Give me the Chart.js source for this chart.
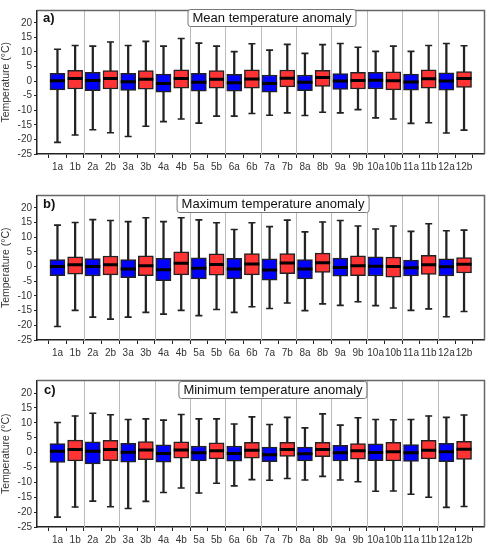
<!DOCTYPE html>
<html>
<head>
<meta charset="utf-8">
<script src="https://cdn.jsdelivr.net/npm/chart.js@4.4.0/dist/chart.umd.min.js"></script>
<style>
    body { margin: 0; background: #fff; font-family: "Liberation Sans", Arial, sans-serif; }
    #wrap { position: relative; width: 495px; height: 550px; }
    canvas { position: absolute; left: 0; }
    .tag { position: absolute; font-weight: bold; font-size: 13px; color: #111; }
    .ttl {
        position: absolute; transform: translateX(-50%); white-space: nowrap;
        font-size: 13px; color: #111; background: #fff;
        border: 1px solid #777; border-radius: 3px; padding: 0 4px; line-height: 16px;
    }
</style>
</head>
<body>
<div id="wrap">
    <canvas id="chartA" width="495" height="180" style="top:0px"></canvas>
    <canvas id="chartB" width="495" height="180" style="top:185px"></canvas>
    <canvas id="chartC" width="495" height="180" style="top:370px"></canvas>
    <div class="tag" style="left:43px; top:10px">a)</div>
    <div class="tag" style="left:43px; top:196px">b)</div>
    <div class="tag" style="left:44px; top:382px">c)</div>
    <div class="ttl" style="left:272px; top:9px">Mean temperature anomaly</div>
    <div class="ttl" style="left:273px; top:195px">Maximum temperature anomaly</div>
    <div class="ttl" style="left:273px; top:381px">Minimum temperature anomaly</div>
</div>
<script>
const categories = ['1a','1b','2a','2b','3a','3b','4a','4b','5a','5b','6a','6b',
                    '7a','7b','8a','8b','9a','9b','10a','10b','11a','11b','12a','12b'];
const yTicks = [-25, -20, -15, -10, -5, 0, 5, 10, 15, 20];

// a) mean temperature anomaly
const meanMax = [10.9, 12.2, 12.0, 13.4, 12.2, 13.6, 12.0, 14.6, 13.0, 12.0, 10.1, 12.8,
                 10.6, 12.6, 9.5, 12.5, 12.9, 11.6, 10.2, 12.0, 10.2, 12.2, 12.9, 12.1];
const meanQ3  = [2.7, 3.7, 3.0, 3.6, 2.7, 3.6, 2.4, 3.9, 2.7, 3.6, 2.3, 3.9,
                 2.1, 3.8, 2.1, 3.7, 2.6, 3.0, 3.0, 3.2, 2.4, 3.9, 2.8, 3.3];
const meanMed = [0.1, 0.9, 0.2, 0.9, -0.2, 0.6, -0.8, 0.9, -0.4, 0.6, -0.6, 0.7,
                 -0.8, 1.0, -0.4, 1.2, 0.0, 0.2, 0.3, 0.1, -0.3, 0.8, 0.0, 0.9];
const meanQ1  = [-3.0, -2.7, -3.3, -2.7, -3.2, -2.8, -3.8, -2.4, -3.5, -2.4, -3.5, -2.4,
                 -3.8, -2.0, -3.3, -1.8, -2.9, -2.7, -2.7, -3.0, -3.1, -2.4, -3.1, -2.2];
const meanMin = [-21.0, -18.5, -16.7, -17.7, -19.0, -15.5, -13.9, -13.0, -14.4, -12.0, -12.0, -11.1,
                 -11.7, -10.9, -11.8, -10.7, -10.9, -9.8, -12.6, -13.0, -14.5, -14.3, -17.8, -16.8];

// b) maximum temperature anomaly
const maxMax = [14.1, 15.0, 16.0, 15.7, 15.3, 16.6, 15.3, 16.6, 15.9, 14.9, 12.6, 14.9,
                13.6, 15.8, 11.8, 15.2, 15.7, 13.8, 12.8, 13.8, 12.0, 14.6, 12.2, 12.4];
const maxQ3  = [2.4, 3.3, 2.7, 3.6, 2.4, 3.7, 2.8, 5.0, 3.0, 4.3, 2.8, 4.4,
                2.6, 4.4, 2.4, 4.6, 2.9, 3.7, 3.3, 3.2, 2.2, 3.8, 2.6, 3.1];
const maxMed = [0.0, 0.6, 0.0, 0.6, -0.8, 0.3, -1.1, 1.1, -0.6, 0.7, -0.8, 0.9,
                -1.2, 1.2, -0.8, 1.3, -0.3, 0.3, 0.1, 0.0, -0.4, 0.6, -0.1, 0.8];
const maxQ1  = [-3.1, -2.6, -3.2, -2.8, -3.8, -3.1, -4.8, -2.8, -4.2, -2.9, -4.2, -2.8,
                -4.6, -2.4, -4.2, -2.0, -3.3, -3.1, -3.2, -3.6, -3.2, -2.7, -3.2, -2.2];
const maxMin = [-20.4, -14.9, -17.2, -17.9, -17.2, -15.6, -16.2, -14.9, -16.7, -14.6, -15.6, -13.7,
                -14.3, -12.4, -15.0, -12.7, -13.2, -12.0, -13.3, -14.1, -14.9, -14.4, -17.1, -15.3];

// c) minimum temperature anomaly
const minMax = [10.1, 12.3, 13.2, 12.7, 11.1, 11.3, 10.9, 12.8, 11.3, 11.3, 9.6, 12.0,
                9.4, 11.8, 8.3, 13.0, 9.2, 11.7, 11.1, 11.0, 11.1, 12.3, 11.8, 12.6];
const minQ3  = [3.0, 4.2, 3.6, 4.1, 3.1, 3.7, 2.6, 3.6, 2.2, 3.3, 2.2, 3.4,
                1.8, 3.4, 1.8, 3.4, 2.4, 3.0, 2.9, 3.4, 2.7, 4.1, 3.1, 3.8];
const minMed = [0.4, 1.0, 0.4, 1.0, 0.1, 0.9, -0.3, 0.9, -0.1, 0.6, -0.3, 0.8,
                -0.7, 1.0, -0.4, 1.0, -0.1, 0.6, 0.0, 0.3, -0.1, 0.8, 0.3, 1.1];
const minQ1  = [-3.3, -2.8, -3.8, -2.7, -3.2, -2.4, -3.2, -1.9, -2.8, -2.1, -2.9, -1.9,
                -3.1, -1.3, -2.8, -1.4, -2.8, -2.2, -2.7, -2.8, -3.0, -2.1, -3.1, -2.3];
const minMin = [-21.7, -18.3, -16.3, -18.2, -18.8, -16.4, -13.4, -11.9, -13.6, -10.3, -11.2, -9.1,
                -9.3, -8.7, -9.2, -8.0, -9.2, -9.8, -13.0, -12.9, -14.0, -15.0, -18.4, -18.1];

const boxColors = categories.map((c, i) => i % 2 === 0 ? '#0000ff' : '#ff3333');

// frame + separators between month pairs
const framePlugin = {
    id: 'frame',
    beforeDatasetsDraw(chart) {
        const { ctx, chartArea: a, scales } = chart;
        ctx.save();
        ctx.strokeStyle = '#bbbbbb';
        ctx.lineWidth = 1;
        for (let i = 1; i < categories.length - 1; i += 2) {
            const x = Math.round(scales.x.getPixelForValue(i + 0.5)) + 0.5;
            ctx.beginPath();
            ctx.moveTo(x, a.top);
            ctx.lineTo(x, a.bottom);
            ctx.stroke();
        }
        ctx.restore();
    },
    afterDraw(chart) {
        const { ctx, chartArea: a } = chart;
        ctx.save();
        ctx.strokeStyle = '#666666';
        ctx.lineWidth = 1.5;
        ctx.beginPath();
        ctx.moveTo(a.left, a.top);
        ctx.lineTo(a.right, a.top);
        ctx.lineTo(a.right, a.bottom);
        ctx.stroke();
        ctx.restore();
    }
};

function makeBoxChart(id, mins, q1s, meds, q3s, maxs, pad) {
    const pts = arr => arr.map((v, i) => ({ x: i, y: v }));
    new Chart(document.getElementById(id), {
        type: 'bar',
        data: {
            datasets: [
                {
                    // whiskers
                    data: categories.map((c, i) => ({ x: i, y: [mins[i], maxs[i]] })),
                    backgroundColor: '#222222',
                    barThickness: 1.6,
                    grouped: false,
                    order: 4
                },
                {
                    // boxes
                    data: categories.map((c, i) => ({ x: i, y: [q1s[i], q3s[i]] })),
                    backgroundColor: boxColors,
                    borderColor: '#222222',
                    borderWidth: 1.5,
                    borderSkipped: false,
                    barThickness: 15,
                    grouped: false,
                    order: 3
                },
                {
                    // whisker caps
                    type: 'line',
                    data: pts(mins).concat(pts(maxs)),
                    showLine: false,
                    pointStyle: 'line',
                    pointRadius: 3.5,
                    pointBorderWidth: 1.6,
                    pointBorderColor: '#222222',
                    order: 2
                },
                {
                    // medians
                    type: 'line',
                    data: pts(meds),
                    showLine: false,
                    pointStyle: 'line',
                    pointRadius: 7.5,
                    pointBorderWidth: 3,
                    pointBorderColor: '#000000',
                    order: 1
                }
            ]
        },
        options: {
            responsive: false,
            animation: false,
            layout: { padding: { top: pad.top, right: 6, bottom: pad.bottom, left: 0 } },
            plugins: { legend: { display: false }, tooltip: { enabled: false } },
            scales: {
                x: {
                    type: 'linear',
                    min: -0.63,
                    max: 23.63,
                    afterBuildTicks: axis => { axis.ticks = categories.map((c, i) => ({ value: i })); },
                    afterFit: axis => { axis.height = 23; },
                    ticks: {
                        autoSkip: false,
                        maxRotation: 0,
                        padding: 3,
                        color: '#333333',
                        font: { family: 'Liberation Sans', size: 10 },
                        callback: v => categories[v]
                    },
                    grid: { drawOnChartArea: false, tickLength: 4, color: '#222222' },
                    border: { color: '#222222', width: 1.5 }
                },
                y: {
                    min: -25,
                    max: 24.2,
                    afterBuildTicks: axis => { axis.ticks = yTicks.map(v => ({ value: v })); },
                    afterFit: axis => { axis.width = 37; },
                    ticks: {
                        autoSkip: false,
                        padding: 2,
                        color: '#333333',
                        font: { family: 'Liberation Sans', size: 10 }
                    },
                    title: {
                        display: true,
                        text: 'Temperature (°C)',
                        color: '#333333',
                        padding: 0,
                        font: { family: 'Liberation Sans', size: 10.5 }
                    },
                    grid: { drawOnChartArea: false, tickLength: 3, color: '#222222' },
                    border: { color: '#222222', width: 1.5 }
                }
            }
        },
        plugins: [framePlugin]
    });
}

makeBoxChart('chartA', meanMin, meanQ1, meanMed, meanQ3, meanMax, { top: 7, bottom: 3 });
makeBoxChart('chartB', maxMin, maxQ1, maxMed, maxQ3, maxMax, { top: 7, bottom: 2 });
makeBoxChart('chartC', minMin, minQ1, minMed, minQ3, minMax, { top: 9, bottom: 0 });
</script>
</body>
</html>
